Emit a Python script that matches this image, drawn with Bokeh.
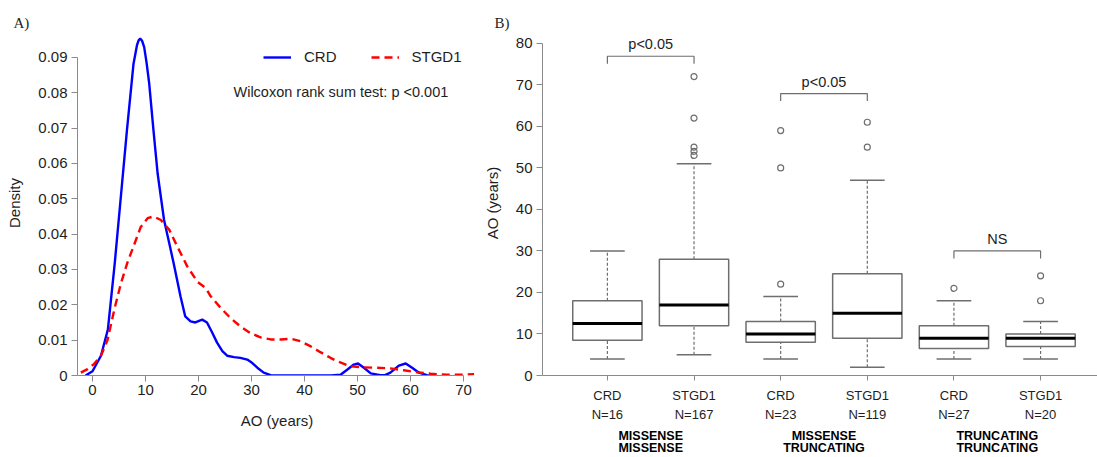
from bokeh.plotting import figure
from bokeh.models import (Range1d, FixedTicker, CustomJSTickFormatter, Legend, LegendItem,
                          Label, ColumnDataSource, LinearAxis, Title)
from bokeh.layouts import row
from bokeh.embed import file_html
from bokeh.resources import INLINE

# ---------------- data: panel A (density curves) ----------------
crd_x = [-1.3, 0.0, 1.6, 2.9, 4.2, 5.35, 6.5, 7.74, 8.4, 8.7, 9.0, 9.35, 9.75, 10.2, 10.7,
         11.5, 12.3, 13.5, 14.4, 15.3, 16.6, 17.5, 18.5, 19.4, 20.7, 21.6, 22.6, 23.5, 24.5,
         25.4, 26.7, 27.9, 29.2, 30.1, 31.1, 32.3, 33.6, 35.0, 40.0, 45.0, 46.8, 48.1, 49.3,
         50.1, 51.2, 52.5, 54.3, 55.2, 56.2, 57.8, 59.1, 60.3, 61.6, 63.1, 64.4]
crd_d = [0.0, 0.0012, 0.0056, 0.013, 0.0318, 0.0506, 0.0694, 0.0882, 0.0935, 0.0948, 0.0953,
         0.0947, 0.0929, 0.0885, 0.0826, 0.0694, 0.057, 0.044, 0.038, 0.0318, 0.0224, 0.0167,
         0.0153, 0.0150, 0.0158, 0.0150, 0.0121, 0.0093, 0.0069, 0.0056, 0.0052, 0.0050,
         0.0045, 0.0036, 0.0022, 0.0008, 0.0001, 0.0, 0.0, 0.0, 0.0002, 0.0017, 0.0031,
         0.0034, 0.0022, 0.0006, 0.0001, 0.0001, 0.0008, 0.0028, 0.0034, 0.0022, 0.0008,
         0.0001, 0.0]

stgd_x = [-2.2, -0.94, 0.31, 1.57, 2.83, 4.09, 5.35, 6.6, 7.86, 9.1, 10.4, 11.5, 12.9, 14.5,
          16.0, 17.9, 19.8, 21.4, 22.3, 24.2, 26.0, 27.9, 29.8, 31.7, 33.6, 35.5, 37.4, 39.2,
          41.1, 43.0, 44.9, 46.2, 48.7, 51.2, 53.7, 56.2, 58.7, 61.3, 63.8, 66.9, 69.5, 72.0]
stgd_d = [0.0008, 0.0018, 0.0033, 0.0055, 0.0100, 0.0185, 0.0260, 0.0320, 0.0370, 0.0420,
          0.0445, 0.0450, 0.0440, 0.0412, 0.0365, 0.0308, 0.0265, 0.0247, 0.0224, 0.0191,
          0.0163, 0.0139, 0.0120, 0.0108, 0.0102, 0.0102, 0.0104, 0.0097, 0.0083, 0.0066,
          0.0050, 0.0040, 0.0026, 0.0023, 0.0022, 0.0020, 0.0015, 0.0009, 0.0005, 0.0002,
          0.0002, 0.0004]

a_xticks = [0, 10, 20, 30, 40, 50, 60, 70]
a_yticks = [0, 0.01, 0.02, 0.03, 0.04, 0.05, 0.06, 0.07, 0.08, 0.09]

# ---------------- data: panel B (boxplots) ----------------
b_labels = ["CRD", "STGD1", "CRD", "STGD1", "CRD", "STGD1"]
b_n = ["N=16", "N=167", "N=23", "N=119", "N=27", "N=20"]
b_lower = [4, 5, 4, 2, 4, 4]
b_q1 = [8.5, 12, 8, 9, 6.5, 7]
b_median = [12.5, 17, 10, 15, 9, 9]
b_q3 = [18, 28, 13, 24.5, 12, 10]
b_upper = [30, 51, 19, 47, 18, 13]
b_outliers = [[], [72, 62, 55, 54, 53], [59, 50, 22], [61, 55], [21], [24, 18]]
groups_line1 = ["MISSENSE", "MISSENSE", "TRUNCATING"]
groups_line2 = ["MISSENSE", "TRUNCATING", "TRUNCATING"]
brk_left = [1, 3, 5]
brk_right = [2, 4, 6]
brk_y = [76.9, 67.9, 30.0]
brk_text = ["p<0.05", "p<0.05", "NS"]
b_yticks = [0, 10, 20, 30, 40, 50, 60, 70, 80]

FONT = "Liberation Sans"
SERIF = "Liberation Serif"
AXIS_COLOR = "#8a8a8a"
TXT = "#1e1e1e"
BOXC = "#6e6e6e"


def style_axis(ax, size="15px"):
    ax.axis_line_color = AXIS_COLOR
    ax.major_tick_line_color = AXIS_COLOR
    ax.minor_tick_line_color = None
    ax.major_tick_out = 6
    ax.major_tick_in = 0
    ax.major_label_text_font = FONT
    ax.major_label_text_font_size = size
    ax.major_label_text_color = TXT
    ax.axis_label_text_font = FONT
    ax.axis_label_text_font_size = "15px"
    ax.axis_label_text_font_style = "normal"
    ax.axis_label_text_color = TXT


# ================= Panel A =================
pA = figure(width=480, height=457, output_backend="svg", toolbar_location=None,
            x_range=Range1d(-2.83, 72.45), y_range=Range1d(0, 0.0976),
            min_border_left=77, min_border_right=4, min_border_top=30, min_border_bottom=81)
pA.outline_line_color = None
pA.grid.visible = False

r_crd = pA.line(crd_x, crd_d, line_color="#0000ff", line_width=2.4)
r_stgd = pA.line(stgd_x, stgd_d, line_color="#ff0000", line_width=2.4, line_dash="8 5")

pA.xaxis.ticker = FixedTicker(ticks=a_xticks)
pA.xaxis.bounds = (-2.83, 70)
pA.yaxis.ticker = FixedTicker(ticks=a_yticks)
pA.yaxis.bounds = (0, 0.09)
pA.yaxis.formatter = CustomJSTickFormatter(code="return tick == 0 ? '0' : tick.toFixed(2);")
style_axis(pA.xaxis[0])
style_axis(pA.yaxis[0])
pA.xaxis.axis_label = "AO (years)"
pA.yaxis.axis_label = "Density"
pA.xaxis.major_label_standoff = 3
pA.xaxis.axis_label_standoff = 14
pA.yaxis.major_label_standoff = 4
pA.yaxis.axis_label_standoff = 12

legend = Legend(items=[LegendItem(label="CRD", renderers=[r_crd]),
                       LegendItem(label="STGD1", renderers=[r_stgd])],
                orientation="horizontal", location=(186, 310), glyph_width=28,
                glyph_height=16, label_height=16, label_standoff=13, spacing=34,
                padding=0, margin=0, border_line_alpha=0, background_fill_alpha=0,
                label_text_font=FONT, label_text_font_size="15px", label_text_color=TXT)
pA.add_layout(legend)

pA.add_layout(Label(x=26.6, y=0.0801, text="Wilcoxon rank sum test: p <0.001",
                    text_font=FONT, text_font_size="14.5px", text_color=TXT,
                    text_baseline="middle", text_align="left"))
pA.add_layout(Title(text="A)", align="left", offset=-64, standoff=0, text_font=SERIF,
                    text_font_size="15px", text_font_style="normal", text_color=TXT), "above")

# ================= Panel B =================
pos = list(range(1, len(b_labels) + 1))
pB = figure(width=617, height=457, output_backend="svg", toolbar_location=None,
            x_range=Range1d(0.251, 6.657), y_range=Range1d(0, 83.1),
            min_border_left=61, min_border_right=0, min_border_top=30, min_border_bottom=82)
pB.outline_line_color = None
pB.grid.visible = False

bw = 0.4
cw = 0.2
src = ColumnDataSource(dict(x=pos, lo=b_lower, q1=b_q1, med=b_median, q3=b_q3, hi=b_upper,
                            l=[p - bw for p in pos], r=[p + bw for p in pos],
                            cl=[p - cw for p in pos], cr=[p + cw for p in pos]))
pB.segment(x0="x", y0="q3", x1="x", y1="hi", source=src, line_color=BOXC, line_width=1.2,
           line_dash="3 2")
pB.segment(x0="x", y0="lo", x1="x", y1="q1", source=src, line_color=BOXC, line_width=1.2,
           line_dash="3 2")
pB.segment(x0="cl", y0="hi", x1="cr", y1="hi", source=src, line_color=BOXC, line_width=1.5)
pB.segment(x0="cl", y0="lo", x1="cr", y1="lo", source=src, line_color=BOXC, line_width=1.5)
pB.quad(left="l", right="r", bottom="q1", top="q3", source=src, fill_color="white",
        line_color=BOXC, line_width=1.5)
pB.segment(x0="l", y0="med", x1="r", y1="med", source=src, line_color="black", line_width=3)
ox, oy = [], []
for p, outs in zip(pos, b_outliers):
    for v in outs:
        ox.append(p)
        oy.append(v)
pB.scatter(ox, oy, size=6, marker="circle", fill_color=None, line_color=BOXC, line_width=1.2)

leg = 1.8
xs, ys = [], []
for a, b, y in zip(brk_left, brk_right, brk_y):
    xs.append([a, a, b, b])
    ys.append([y - leg, y, y, y - leg])
pB.multi_line(xs, ys, line_color=BOXC, line_width=1.2)
for a, b, y, t in zip(brk_left, brk_right, brk_y, brk_text):
    pB.add_layout(Label(x=(a + b) / 2, y=y + 2.9, text=t, text_font=FONT,
                        text_font_size="14.5px", text_color=TXT, text_align="center",
                        text_baseline="middle"))

pB.xaxis.ticker = FixedTicker(ticks=pos)
pB.xaxis.formatter = CustomJSTickFormatter(args=dict(labels=b_labels),
                                           code="return labels[Math.round(tick) - 1];")
pB.yaxis.ticker = FixedTicker(ticks=b_yticks)
pB.yaxis.bounds = (0, 80)
style_axis(pB.xaxis[0], size="13px")
style_axis(pB.yaxis[0])
pB.xaxis.major_tick_out = 5
pB.xaxis.major_label_standoff = 7
pB.xaxis.major_label_text_line_height = 0.9
pB.yaxis.major_label_standoff = 4
pB.yaxis.axis_label = "AO (years)"
pB.yaxis.axis_label_standoff = 12


def text_axis(ticks, labels, standoff, size, bold):
    ax = LinearAxis(ticker=FixedTicker(ticks=ticks),
                    formatter=CustomJSTickFormatter(
                        args=dict(labels=labels, t0=ticks[0],
                                  step=(ticks[1] - ticks[0]) if len(ticks) > 1 else 1),
                        code="return labels[Math.round((tick - t0) / step)];"))
    ax.axis_line_color = None
    ax.major_tick_line_color = None
    ax.minor_tick_line_color = None
    ax.major_tick_out = 0
    ax.major_tick_in = 0
    ax.major_label_standoff = standoff
    ax.major_label_text_font = FONT
    ax.major_label_text_font_size = size
    ax.major_label_text_line_height = 0.9
    ax.major_label_text_font_style = "bold" if bold else "normal"
    ax.major_label_text_color = "black" if bold else TXT
    return ax


grp_pos = [pos[2 * i] + 0.5 for i in range(len(groups_line1))]
pB.add_layout(text_axis(pos, b_n, 1, "13px", False), "below")
pB.add_layout(text_axis(grp_pos, groups_line1, 4, "12.5px", True), "below")
pB.add_layout(text_axis(grp_pos, groups_line2, -5, "12.5px", True), "below")
pB.add_layout(Title(text="B)", align="left", offset=-48, standoff=0, text_font=SERIF,
                    text_font_size="15px", text_font_style="normal", text_color=TXT), "above")

layout = row(pA, pB)
open("out.html", "w").write(file_html(layout, INLINE))
